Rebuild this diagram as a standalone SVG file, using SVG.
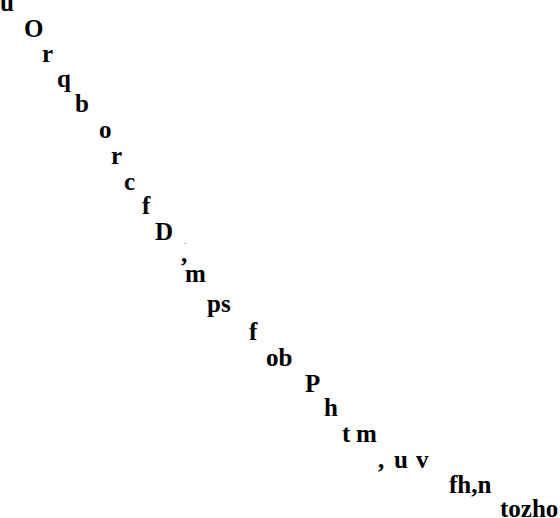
<svg xmlns="http://www.w3.org/2000/svg" width="560" height="518" viewBox="0 0 560 518">
<style>
.t{font-family:"Liberation Serif","Times New Roman",serif;font-size:25px;font-weight:bold;fill:#000;}
.s{font-family:"Liberation Serif","Times New Roman",serif;font-size:8px;fill:#000;}
</style>
<rect width="560" height="518" fill="#fff"/>
<g id="letters">
<text class="t" x="0" y="11">u</text>
<text class="t" x="24" y="37">O</text>
<text class="t" x="42" y="62">r</text>
<text class="t" x="57" y="87">q</text>
<text class="t" x="75" y="112">b</text>
<text class="t" x="99" y="138">o</text>
<text class="t" x="111" y="164">r</text>
<text class="t" x="124" y="190">c</text>
<text class="t" x="142" y="214">f</text>
<text class="t" x="155" y="240">D</text>
<text class="s" x="184" y="243.5">.</text>
<text class="t" x="181" y="262">,</text>
<text class="t" x="185" y="282">m</text>
<text class="t" x="207" y="312">ps</text>
<text class="t" x="249" y="340">f</text>
<text class="t" x="266" y="366">ob</text>
<text class="t" x="305" y="392">P</text>
<text class="t" x="324" y="416">h</text>
<text class="t" x="342" y="442">t<tspan x="356">m</tspan></text>
<text class="t" x="378" y="468">,<tspan x="394">u</tspan><tspan x="416">v</tspan></text>
<text class="t" x="449" y="493">fh,n</text>
<text class="t" x="500" y="517">tozho</text>
</g>
</svg>
